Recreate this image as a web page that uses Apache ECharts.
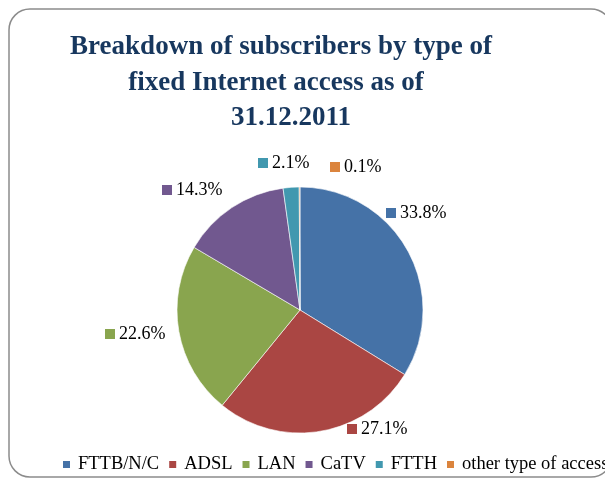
<!DOCTYPE html>
<html>
<head>
<meta charset="utf-8">
<script src="https://cdn.jsdelivr.net/npm/echarts@6/dist/echarts.min.js"></script>
<style>
  html, body { margin: 0; padding: 0; background: #fff; }
  #chart { width: 605px; height: 478px; }
</style>
</head>
<body>
<div id="chart"></div>
<script>
// Subscriber shares by fixed Internet access type, 31.12.2011
const categories = ['FTTB/N/C', 'ADSL', 'LAN', 'CaTV', 'FTTH', 'other type of access'];
const shares = [33.8, 27.1, 22.6, 14.3, 2.1, 0.1];
const titleLines = ['Breakdown of subscribers by type of', 'fixed Internet access as of', '31.12.2011'];

const colors = ['#4572A7', '#AA4643', '#89A54E', '#71588F', '#4198AF', '#DB843D'];
const serif = '"Liberation Serif", "Times New Roman", serif';

// label anchor points (left edge of the colour key, vertical middle)
const labelAnchors = [[386, 213], [347, 429], [105, 334], [162, 190], [258, 163], [330, 167]];
// centre point of each title line
const titleCenters = [[281, 47], [276, 83], [291, 118]];

const rich = { v: { fontFamily: serif, fontSize: 18, color: '#000', padding: [0, 0, 0, 4] } };
colors.forEach((c, i) => {
  rich['s' + i] = { width: 10, height: 10, backgroundColor: c };
});

const chart = echarts.init(document.getElementById('chart'), null, { renderer: 'canvas' });

const titleGraphics = titleLines.map((t, i) => ({
  type: 'text',
  x: titleCenters[i][0],
  y: titleCenters[i][1],
  style: {
    text: t,
    fill: '#17375E',
    font: 'bold 27px ' + serif,
    textAlign: 'center',
    textVerticalAlign: 'middle'
  }
}));

chart.setOption({
  backgroundColor: '#fff',
  animation: false,
  color: colors,
  graphic: [
    {
      type: 'rect',
      shape: { x: 9, y: 9, width: 603, height: 468, r: 21 },
      style: { fill: 'none', stroke: '#8c8c8c', lineWidth: 1.5 },
      z: -1
    }
  ].concat(titleGraphics),
  legend: {
    left: 61,
    top: 455,
    width: 900,
    padding: 0,
    itemWidth: 9,
    itemHeight: 9,
    itemGap: 8,
    icon: 'rect',
    textStyle: { fontFamily: serif, fontSize: 18.5, color: '#000', padding: [0, 0, 0, 2] },
    data: categories
  },
  series: [{
    type: 'pie',
    center: [300, 310],
    radius: 123,
    startAngle: 90,
    clockwise: true,
    avoidLabelOverlap: false,
    itemStyle: { borderColor: '#ffffff', borderWidth: 0.6 },
    label: {
      show: true,
      position: 'outside',
      formatter: p => '{s' + p.dataIndex + '|}{v|' + p.value.toFixed(1) + '%}',
      rich: rich
    },
    labelLine: { show: false },
    labelLayout: p => ({
      x: labelAnchors[p.dataIndex][0],
      y: labelAnchors[p.dataIndex][1],
      align: 'left',
      verticalAlign: 'middle'
    }),
    emphasis: { disabled: true },
    data: categories.map((name, i) => ({ name: name, value: shares[i] }))
  }]
});
</script>
</body>
</html>
